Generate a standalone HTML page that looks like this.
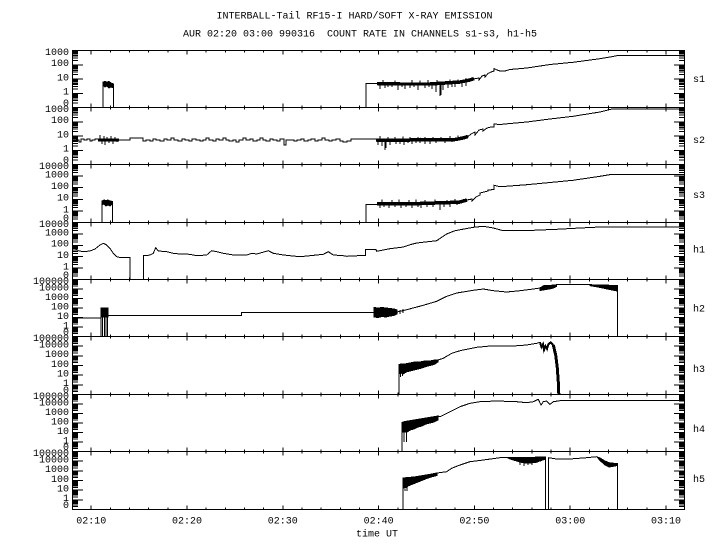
<!DOCTYPE html>
<html>
<head>
<meta charset="utf-8">
<style>
html,body{margin:0;padding:0;background:#fff;}
svg{display:block;}
text{font-family:"Liberation Mono","DejaVu Sans Mono",monospace;font-size:10px;fill:#000;}
</style>
</head>
<body>
<svg width="720" height="550" viewBox="0 0 720 550" xmlns="http://www.w3.org/2000/svg" shape-rendering="crispEdges">
<rect x="0" y="0" width="720" height="550" fill="#fff"/>
<defs>
<path id="t4" fill="none" stroke="#000" stroke-width="1" d="M0,0h11M0,-14.25h11M0,-28.5h11M0,-42.75h11M0,-57h11M0,-4.29h6M0,-6.8h6M0,-8.58h6M0,-9.96h6M0,-11.09h6M0,-12.04h6M0,-12.87h6M0,-13.6h6M0,-18.54h6M0,-21.05h6M0,-22.83h6M0,-24.21h6M0,-25.34h6M0,-26.29h6M0,-27.12h6M0,-27.85h6M0,-32.79h6M0,-35.3h6M0,-37.08h6M0,-38.46h6M0,-39.59h6M0,-40.54h6M0,-41.37h6M0,-42.1h6M0,-47.04h6M0,-49.55h6M0,-51.33h6M0,-52.71h6M0,-53.84h6M0,-54.79h6M0,-55.62h6M0,-56.35h6"/>
<path id="t5" fill="none" stroke="#000" stroke-width="1" d="M0,0h11M0,-11.4h11M0,-22.8h11M0,-34.2h11M0,-45.6h11M0,-57h11M0,-3.43h6M0,-5.44h6M0,-6.86h6M0,-7.97h6M0,-8.87h6M0,-9.63h6M0,-10.29h6M0,-10.88h6M0,-14.83h6M0,-16.84h6M0,-18.26h6M0,-19.37h6M0,-20.27h6M0,-21.03h6M0,-21.69h6M0,-22.28h6M0,-26.23h6M0,-28.24h6M0,-29.66h6M0,-30.77h6M0,-31.67h6M0,-32.43h6M0,-33.09h6M0,-33.68h6M0,-37.63h6M0,-39.64h6M0,-41.06h6M0,-42.17h6M0,-43.07h6M0,-43.83h6M0,-44.49h6M0,-45.08h6M0,-49.03h6M0,-51.04h6M0,-52.46h6M0,-53.57h6M0,-54.47h6M0,-55.23h6M0,-55.89h6M0,-56.48h6"/>
<path id="t6" fill="none" stroke="#000" stroke-width="1" d="M0,0h11M0,-9.5h11M0,-19h11M0,-28.5h11M0,-38h11M0,-47.5h11M0,-57h11M0,-2.86h6M0,-4.53h6M0,-5.72h6M0,-6.64h6M0,-7.39h6M0,-8.03h6M0,-8.58h6M0,-9.06h6M0,-12.36h6M0,-14.03h6M0,-15.22h6M0,-16.14h6M0,-16.89h6M0,-17.53h6M0,-18.08h6M0,-18.56h6M0,-21.86h6M0,-23.53h6M0,-24.72h6M0,-25.64h6M0,-26.39h6M0,-27.03h6M0,-27.58h6M0,-28.06h6M0,-31.36h6M0,-33.03h6M0,-34.22h6M0,-35.14h6M0,-35.89h6M0,-36.53h6M0,-37.08h6M0,-37.56h6M0,-40.86h6M0,-42.53h6M0,-43.72h6M0,-44.64h6M0,-45.39h6M0,-46.03h6M0,-46.58h6M0,-47.06h6M0,-50.36h6M0,-52.03h6M0,-53.22h6M0,-54.14h6M0,-54.89h6M0,-55.53h6M0,-56.08h6M0,-56.56h6"/>
<path id="xd" fill="none" stroke="#000" stroke-width="1" d="M91.2,0v4M187,0v4M282.8,0v4M378.6,0v4M474.4,0v4M570.2,0v4M666,0v4M110.36,0v2M129.52,0v2M148.68,0v2M167.84,0v2M206.16,0v2M225.32,0v2M244.48,0v2M263.64,0v2M301.96,0v2M321.12,0v2M340.28,0v2M359.44,0v2M397.76,0v2M416.92,0v2M436.08,0v2M455.24,0v2M493.56,0v2M512.72,0v2M531.88,0v2M551.04,0v2M589.36,0v2M608.52,0v2M627.68,0v2M646.84,0v2"/>
</defs>

<!-- Titles -->
<text x="216.5" y="18.5">INTERBALL-Tail RF15-I HARD/SOFT X-RAY EMISSION</text>
<text x="183" y="36.5" xml:space="preserve">AUR 02:20 03:00 990316  COUNT RATE IN CHANNELS s1-s3, h1-h5</text>

<!-- Frame -->
<g fill="none" stroke="#000" stroke-width="1">
<path d="M72.5,50V509.5M684.5,50V509.5"/>
<path d="M72,50.5H685M72,107.5H685M72,164.5H685M72,222.5H685M72,279.5H685M72,336.5H685M72,394.5H685M72,451.5H685M72,509.5H685"/>
</g>

<!-- X ticks -->
<use href="#xd" transform="translate(0,50.5)"/>
<use href="#xd" transform="translate(0,107.5)"/><use href="#xd" transform="translate(0,107.5) scale(1,-1)"/>
<use href="#xd" transform="translate(0,164.5)"/><use href="#xd" transform="translate(0,164.5) scale(1,-1)"/>
<use href="#xd" transform="translate(0,222.5)"/><use href="#xd" transform="translate(0,222.5) scale(1,-1)"/>
<use href="#xd" transform="translate(0,279.5)"/><use href="#xd" transform="translate(0,279.5) scale(1,-1)"/>
<use href="#xd" transform="translate(0,336.5)"/><use href="#xd" transform="translate(0,336.5) scale(1,-1)"/>
<use href="#xd" transform="translate(0,394.5)"/><use href="#xd" transform="translate(0,394.5) scale(1,-1)"/>
<use href="#xd" transform="translate(0,451.5)"/><use href="#xd" transform="translate(0,451.5) scale(1,-1)"/>
<use href="#xd" transform="translate(0,509.5) scale(1,-1)"/>

<!-- Y ticks left -->
<use href="#t4" transform="translate(72,107.5)"/>
<use href="#t4" transform="translate(72,164.5)"/>
<use href="#t5" transform="translate(72,222.5) scale(1,1.0175)"/>
<use href="#t5" transform="translate(72,279.5)"/>
<use href="#t6" transform="translate(72,336.5)"/>
<use href="#t6" transform="translate(72,394.5) scale(1,1.0175)"/>
<use href="#t6" transform="translate(72,451.5)"/>
<use href="#t6" transform="translate(72,509.5) scale(1,1.0175)"/>
<!-- Y ticks right -->
<use href="#t4" transform="translate(685,107.5) scale(-1,1)"/>
<use href="#t4" transform="translate(685,164.5) scale(-1,1)"/>
<use href="#t5" transform="translate(685,222.5) scale(-1,1.0175)"/>
<use href="#t5" transform="translate(685,279.5) scale(-1,1)"/>
<use href="#t6" transform="translate(685,336.5) scale(-1,1)"/>
<use href="#t6" transform="translate(685,394.5) scale(-1,1.0175)"/>
<use href="#t6" transform="translate(685,451.5) scale(-1,1)"/>
<use href="#t6" transform="translate(685,509.5) scale(-1,1.0175)"/>

<!-- Y labels -->
<g text-anchor="end">
<text x="69" y="54.9">1000</text><text x="69" y="66.2">100</text><text x="69" y="80.4">10</text><text x="69" y="94.7">1</text><text x="69" y="105.9">0</text>
<text x="69" y="111.9">1000</text><text x="69" y="123.2">100</text><text x="69" y="137.4">10</text><text x="69" y="151.7">1</text><text x="69" y="162.9">0</text>
<text x="69" y="168.9">10000</text><text x="69" y="177.5">1000</text><text x="69" y="189.1">100</text><text x="69" y="200.7">10</text><text x="69" y="212.3">1</text><text x="69" y="220.9">0</text>
<text x="69" y="226.9">10000</text><text x="69" y="235.3">1000</text><text x="69" y="246.7">100</text><text x="69" y="258.1">10</text><text x="69" y="269.5">1</text><text x="69" y="277.9">0</text>
<text x="69" y="283.9">100000</text><text x="69" y="290.4">10000</text><text x="69" y="299.9">1000</text><text x="69" y="309.4">100</text><text x="69" y="318.9">10</text><text x="69" y="328.4">1</text><text x="69" y="334.9">0</text>
<text x="69" y="340.9">100000</text><text x="69" y="347.6">10000</text><text x="69" y="357.2">1000</text><text x="69" y="366.9">100</text><text x="69" y="376.6">10</text><text x="69" y="386.2">1</text><text x="69" y="392.9">0</text>
<text x="69" y="398.9">100000</text><text x="69" y="405.4">10000</text><text x="69" y="414.9">1000</text><text x="69" y="424.4">100</text><text x="69" y="433.9">10</text><text x="69" y="443.4">1</text><text x="69" y="449.9">0</text>
<text x="69" y="455.9">100000</text><text x="69" y="462.6">10000</text><text x="69" y="472.2">1000</text><text x="69" y="481.9">100</text><text x="69" y="491.6">10</text><text x="69" y="501.2">1</text><text x="69" y="507.9">0</text>
</g>

<!-- Channel labels -->
<text x="693" y="82">s1</text>
<text x="693" y="143">s2</text>
<text x="693" y="198">s3</text>
<text x="693" y="252.5">h1</text>
<text x="693" y="311.5">h2</text>
<text x="693" y="372">h3</text>
<text x="693" y="432">h4</text>
<text x="693" y="482">h5</text>

<!-- X labels -->
<g text-anchor="middle">
<text x="91.2" y="523.5">02:10</text>
<text x="187" y="523.5">02:20</text>
<text x="282.8" y="523.5">02:30</text>
<text x="378.6" y="523.5">02:40</text>
<text x="474.4" y="523.5">02:50</text>
<text x="570.2" y="523.5">03:00</text>
<text x="666" y="523.5">03:10</text>
<text x="377" y="536.5">time UT</text>
</g>

<!-- Series: lines -->
<g fill="none" stroke="#000" stroke-width="1" stroke-linejoin="miter">
<!-- s1 -->
<path d="M103,107 V82 M113.5,84 V107"/>
<path d="M366,107 V83.5 H377 M473,79 L476,78.5 L479,78 V80 L482,76 L485,75 V77 L488,73.5 L491,72 L494,71 V68.5 L497,70 L500,71 L505,71 L510,69.5 L527,68 L550,64.5 L573,62.3 L600,58.7 L610,57 L618,55.5 H684"/>
<path d="M380,84 V89 M385,84 V88 M388,84 V87 M392,84 V87 M398,84 V90 M402,84 V87 M405,84 V89 M410,84 V88 M414,84 V87 M418,84 V90 M425,84 V88 M429,84 V87 M432,84 V89 M436,84 V92 M440,84 V96 M441,84 V95 M443,84 V90 M448,84 V88 M452,84 V87 M455,84 V87 M462,83 V87 M466,82 V86 M383,83 V80 M395,83 V80.5 M412,83 V80 M420,83 V80.5 M428,83 V80 M437,83 V80 M450,82 V79.5 M458,82 V79.5 M466,81 V78"/>
<path stroke-width="3.5" d="M377,83.5 L400,84 L430,84 L445,83 L460,82 L470,80 L474,78.5"/>
<!-- s2 -->
<path d="M72,139 H74 V141 H76 V140 H79 V142 H81 V139 H84 V140 H87 V139 H90 V141 H92 V140 H95 V139 H98 M119,140 H130 V138 H143 V141 H146 V140 H150 V141 H153 V139 H156 V140 H160 V141 H164 V139 H167 V140 H171 V138 H174 V140 H178 V141 H182 V139 H185 V140 H189 V141 H192 V139 H196 V140 H200 V141 H203 V140 H206 V138 H209 V140 H213 V141 H216 V139 H219 V140 H223 V138 H226 V140 H229 V141 H233 V140 H236 V142 H239 V140 H243 V138 H246 V140 H250 V139 H253 V141 H257 V140 H260 V138 H263 V140 H266 V141 H270 V139 H273 V140 H277 V141 H280 V139 H284 V145 H286 V140 H290 V140 H294 V141 H297 V140 H301 V139 H304 V141 H308 V140 H311 V139 H315 V141 H318 V140 H322 V138 H325 V140 H329 V141 H332 V140 H336 V139 H340 V141 H343 V142 H347 V141 H351 V139 H355 V139 H376 M468,136.5 L471,134 L475,132 V135 L479,130 L483,129 V131 L487,128 L491,127 L494,127 V124 L500,124.5 L510,123.5 L527,122 L550,119 L573,116.3 L600,112 L612,109 H684"/>
<path d="M100,140 V135 M102,140 V144 M104,140 V136 M105,140 V145 M107,140 V137 M109,140 V143 M111,140 V136 M113,140 V144 M115,140 V137 M117,140 V142"/>
<path stroke-width="3" d="M98,140 H119"/>
<path d="M378,140 V145 M382,140 V146 M385,140 V150 M386,140 V148 M390,140 V145 M396,140 V144 M400,140 V144 M404,140 V145 M408,140 V143 M412,140 V144 M416,140 V143 M420,140 V143 M425,140 V144 M430,140 V144 M436,140 V143 M445,140 V143 M452,139 V142 M380,140 V136 M388,140 V137 M395,140 V137 M403,140 V136.5 M410,140 V137 M418,140 V137 M425,140 V137 M433,140 V137 M441,140 V137 M450,139 V136 M458,138 V135.5"/>
<path stroke-width="3.5" d="M376,140 L400,140.5 L420,139.5 L440,140 L455,139.5 L463,138 L468,136.5"/>
<!-- s3 -->
<path d="M102,222 V201 M112.5,204 V222"/>
<path d="M366,222 V204.7 H377 M467,200 L472,199 V201 L476,197 L480,195 V193 L484,192 L488,191 V190 L492,189.7 L494,189.5 V185.3 L500,186.7 L510,186 L527,184.7 L550,182.5 L573,180.3 L600,176.3 L612,174.3 H684"/>
<path d="M380,203 V208 M384,203 V207 M389,203 V208 M395,203 V207 M401,203 V208 M406,203 V207 M412,203 V208 M418,203 V207 M421,203 V208 M427,203 V207 M433,203 V207 M440,203 V210 M444,203 V207 M450,203 V207 M457,202 V205 M382,203 V199.5 M392,203 V200 M399,203 V199.5 M409,203 V200 M416,203 V199.5 M425,203 V200 M435,203 V199.5 M447,203 V200 M455,202 V199"/>
<path stroke-width="3.5" d="M377,203.5 L420,203.5 L450,202.5 L460,202 L467,200"/>
<!-- h1 -->
<path d="M72,246.7 L75,248.3 L78.3,250.7 L83.3,251.7 L90,251 L95,249 L100,245 L103.3,243.3 L106.7,245 L110,248.3 L113.3,253.3 L116.7,256.7 L119.3,257.3 H130 V279 M143.3,279 V255.7 L146,255.7 L150,255 L153.3,253.3 L155.7,247.7 L158.3,251 L166.7,251.7 L173.3,253.3 L180,254 L190,254.3 L196.7,255.7 L206.7,255 L211.7,250.7 L216.7,251.7 L223.3,253.3 L233.3,255 L246.7,255 L251.7,253.3 L256.7,254 L268.3,250.7 L273.3,253.3 L283.3,255 L300,256.7 L310,255.7 L323.3,254.3 L328.3,251.7 L333.3,255 L343.3,255.7 L346.7,256.3 L365.7,255.3 V249.7 H376 L376.7,251.3 L390,248.7 L403.3,247 L410,244.7 L416.7,243 L436.7,240.7 L446.7,234 L455,230.7 L473.3,227.3 L483.3,226.3 L493.3,228 L503.3,230.7 L520,230.7 L533.3,230.3 L556.7,229.3 L580,228 L600,227 H684"/>
<!-- h2 -->
<path d="M72,318 H101 M101,336 V310 M102.5,336 V310 M104.5,336 V310 M106,336 V310 M107.5,336 V310 M107.5,315.3 H241.7 V312.3 H374 M397,312 L406.7,309.7 L423.3,305.3 L436.7,301.3 L446.7,296.3 L456.7,293 L473.3,290.3 L483.3,289 L493.3,290.7 L506.7,292 L520,290.7 L533.3,289 L540,288 M556.7,284.7 H590 M617.3,287 V336"/>
<path d="M400,310 V314 M403,309 V313"/>
<!-- h3 -->
<path d="M399,394 V364.3 M438,360 L443.3,358.3 L451.7,353.3 L460,350.7 L476.7,347.3 L490,346 L513.3,346 L526.7,345 L536.7,343.3 L540,342.3"/>
<path d="M400.5,370 V377 M402.5,370 V376"/>
<path stroke-width="2" d="M540,342.3 L541.5,347 L543,344 L544,350 L545.5,346 L547,349 L548.3,344.3 L550.7,342.3 L553.3,345"/>
<path stroke-width="3" d="M553.3,345 L555.7,355 L557.3,368 L558.3,382 L558.8,394"/>
<!-- h4 -->
<path d="M402,451 V422 M404,442 V430 M406.5,442 V430 M438,416 L440,416.7 L450,411.7 L460,406.7 L470,403.3 L480,401.7 L496.7,401 L516.7,401.7 L526.7,402.7 L533.3,401.7 L538.3,399.3 L541,405 L543.3,401.7 L546.7,401 L550,404.3 L553.3,401.7 L560,400.7 H684"/>
<!-- h5 -->
<path d="M403,509 V478 M405,489 V491 M407,487 V491 M437,473 L446.7,471.7 L451.7,468.3 L460,465 L470,461.7 L483.3,460 L500,457.7 L508,457.3 M545.7,457 V509 M548.3,509 V457.7 L556.7,459 L570,459 L586.7,457.7 L596.7,456.7 M617.3,464 V509"/>
<path d="M520,460 V465 M524,460 V466 M528,460 V465 M532,460 V465 M537,459 V463"/>
</g>

<!-- Series: noisy bands (filled) -->
<g fill="#000" stroke="#000" stroke-width="1" stroke-linejoin="miter">
<!-- s1 / s3 short bursts -->
<path d="M103,82 L105,81.5 L107,82 L109,81.5 L111,83 L113.5,84 L113.5,88 L111,87 L109,88 L107,86 L105,87 L103,85 Z"/>
<path d="M102,201 L104,200 L106,200.5 L108,200 L110,201 L112.5,201.5 L112.5,204 L110,206 L108,205 L106,206 L104,204 L102,205 Z"/>
<!-- h2 -->
<path d="M101,308 H108 V317 H101 Z"/>
<path d="M374,307.5 L378,308 L382,307.5 L386,308 L390,308.5 L394,309 L397,310 L397,314 L394,315.5 L390,316 L386,317 L382,316.5 L378,317.5 L374,317 Z"/>
<path d="M540,288 L544,285.5 L550,285.5 L553.5,285 L556.7,284.7 L556.7,286.5 L552,288.5 L546,289.5 L540,290.5 Z"/>
<path d="M590,284.7 L617.3,285.5 L617.3,291 L612,290 L605,288.5 L598,287 L590,285.7 Z"/>
<!-- h3 -->
<path d="M399,364.3 L405,364 L410,363 L415,362 L420,362 L425,361 L430,361 L435,360 L438,360 L438,362 L434,364.5 L430,365.5 L426,366.5 L422,368 L418,369 L414,370 L410,371 L406,372 L403,374 L401,373 L399,374 Z"/>
<!-- h4 -->
<path d="M403,422 L408,421 L414,420 L420,419 L426,418 L432,417 L438,416 L438,420 L434,422 L430,423 L426,424 L422,426 L418,427 L414,429 L410,430 L407,432 L403,432 Z"/>
<!-- h5 -->
<path d="M403,478 L408,477.5 L414,477 L420,476 L426,475 L432,474 L437,473 L437,475.5 L433,476.5 L428,478 L423,480 L418,482 L413,484 L408,486 L405,488 L403,488 Z"/>
<path d="M508,457.3 L520,457.5 L530,457.5 L540,457 L545.7,457 L545.7,459 L540,461 L535,462.5 L530,463 L525,463 L520,462 L515,460.5 L510,459 L508,458 Z"/>
<path d="M596.7,456.7 L600,458 L605,461 L610,463 L617.3,463.5 L617.3,465.5 L612,466.5 L609,467 L605,465 L600,460.5 Z"/>
</g>
</svg>
</body>
</html>
